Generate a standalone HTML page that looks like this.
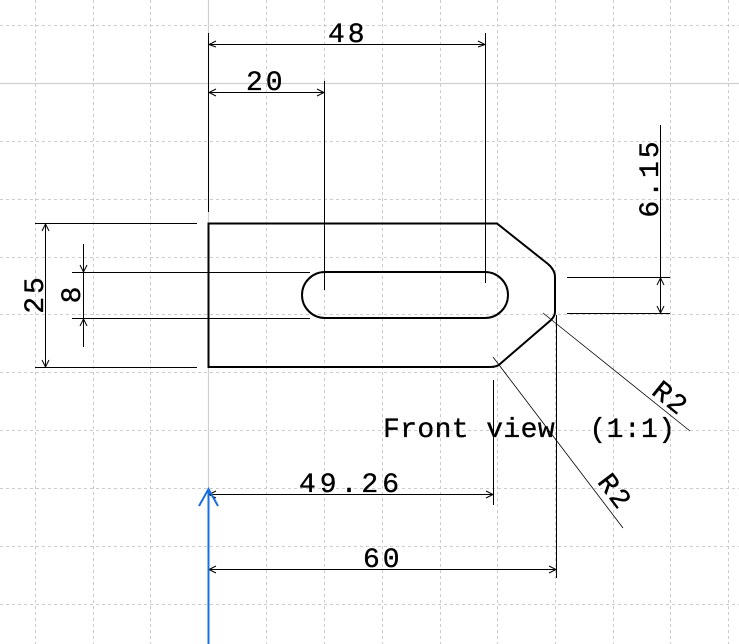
<!DOCTYPE html>
<html><head><meta charset="utf-8"><style>
html,body{margin:0;padding:0;background:#fff}
svg{display:block}
text{font-family:"Liberation Mono","DejaVu Sans Mono",monospace;fill:#000;stroke:#000;stroke-width:0.35}
</style></head><body>
<svg width="739" height="644" viewBox="0 0 739 644" xmlns="http://www.w3.org/2000/svg">
<g stroke="#cccccc" stroke-width="1" stroke-dasharray="3,3">
<line x1="35.5" y1="0" x2="35.5" y2="644"/><line x1="93.5" y1="0" x2="93.5" y2="644"/><line x1="150.5" y1="0" x2="150.5" y2="644"/>
<line x1="266.5" y1="0" x2="266.5" y2="644"/><line x1="324.5" y1="0" x2="324.5" y2="644"/><line x1="382.5" y1="0" x2="382.5" y2="644"/>
<line x1="440.5" y1="0" x2="440.5" y2="644"/><line x1="497.5" y1="0" x2="497.5" y2="644"/><line x1="555.5" y1="0" x2="555.5" y2="644"/>
<line x1="613.5" y1="0" x2="613.5" y2="644"/><line x1="670.5" y1="0" x2="670.5" y2="644"/><line x1="728.5" y1="0" x2="728.5" y2="644"/>
<line x1="0" y1="25.5" x2="739" y2="25.5"/><line x1="0" y1="141.5" x2="739" y2="141.5"/><line x1="0" y1="199.5" x2="739" y2="199.5"/>
<line x1="0" y1="257.5" x2="739" y2="257.5"/><line x1="0" y1="314.5" x2="739" y2="314.5"/><line x1="0" y1="372.5" x2="739" y2="372.5"/>
<line x1="0" y1="430.5" x2="739" y2="430.5"/><line x1="0" y1="488.5" x2="739" y2="488.5"/><line x1="0" y1="546.5" x2="739" y2="546.5"/>
<line x1="0" y1="604.5" x2="739" y2="604.5"/>
</g>
<g stroke="#d0d0d0" stroke-width="1.2"><line x1="208.5" y1="0" x2="208.5" y2="644"/><line x1="0" y1="83.5" x2="739" y2="83.5"/></g>
<g fill="none" stroke="#000" stroke-width="2">
<path d="M208.5 223.5 H497 L548 264 Q555 270 555 277 V312 Q555 316 551 320 L500 364 Q497 367 490 367 H208.5 Z"/>
<path d="M325 272 H485 A23 23 0 0 1 485 318 H325 A23 23 0 0 1 325 272 Z"/>
</g>
<g stroke="#000" stroke-width="1" fill="none">
<line x1="208.5" y1="33" x2="208.5" y2="212"/><line x1="485.5" y1="33" x2="485.5" y2="283"/><line x1="208" y1="44.5" x2="485" y2="44.5"/>
<path d="M216 41 L209 44.5 L216 47 M478 41 L485 44.5 L478 47"/>
<line x1="324.5" y1="81" x2="324.5" y2="290"/><line x1="208" y1="92.5" x2="324" y2="92.5"/>
<path d="M216 89 L209 92.5 L216 96 M317 89 L324 92.5 L317 96"/>
<line x1="35" y1="223.5" x2="197" y2="223.5"/><line x1="35" y1="367.5" x2="197" y2="367.5"/><line x1="45.5" y1="223" x2="45.5" y2="367"/>
<path d="M42 231 L45.5 224 L49 231 M42 360 L45.5 367 L49 360"/>
<line x1="72" y1="272.5" x2="310" y2="272.5"/><line x1="72" y1="318.5" x2="310" y2="318.5"/><line x1="83.5" y1="244" x2="83.5" y2="347"/>
<path d="M80 265 L83.5 272 L87 265 M80 326 L83.5 319 L87 326"/>
<line x1="567" y1="277.5" x2="670" y2="277.5"/><line x1="567" y1="313.5" x2="670" y2="313.5"/><line x1="660.5" y1="125" x2="660.5" y2="313"/>
<path d="M657 285 L660.5 278 L664 285 M657 306 L660.5 313 L664 306"/>
<line x1="493.5" y1="380" x2="493.5" y2="505"/><line x1="208" y1="494.5" x2="493" y2="494.5"/>
<path d="M216 491 L209 494.5 L216 498 M486 491 L493 494.5 L486 498"/>
<line x1="556.5" y1="315" x2="556.5" y2="578"/><line x1="208" y1="569.5" x2="556" y2="569.5"/>
<path d="M216 566 L209 569.5 L216 573 M549 566 L556 569.5 L549 573"/>
<line x1="543" y1="313" x2="690" y2="431" stroke-width="0.8"/>
<line x1="493" y1="357" x2="623" y2="528" stroke-width="0.8"/>
</g>
<g stroke="#1a6fe0" stroke-width="2" fill="none">
<line x1="208.5" y1="489" x2="208.5" y2="644"/><path d="M199 506 L208.5 489 L218 506"/>
</g>
<g font-size="28">
<text x="328" y="42" letter-spacing="3">48</text>
<text x="246" y="90" letter-spacing="3">20</text>
<text x="299" y="492" letter-spacing="4">49.26</text>
<text x="363" y="567" letter-spacing="3">60</text>
<text x="383" y="437" letter-spacing="0.4" xml:space="preserve">Front view&#160;&#160;(1:1)</text>
<text transform="translate(43,294) rotate(-90)" text-anchor="middle" letter-spacing="3">25</text>
<text transform="translate(80,295) rotate(-90)" text-anchor="middle">8</text>
<text transform="translate(658,178) rotate(-90)" text-anchor="middle" letter-spacing="3">6.15</text>
<text transform="translate(665,405) rotate(38.8)" text-anchor="middle" letter-spacing="2">R2</text>
<text transform="translate(608,497) rotate(52.8)" text-anchor="middle" letter-spacing="2">R2</text>
</g>
</svg>
</body></html>
